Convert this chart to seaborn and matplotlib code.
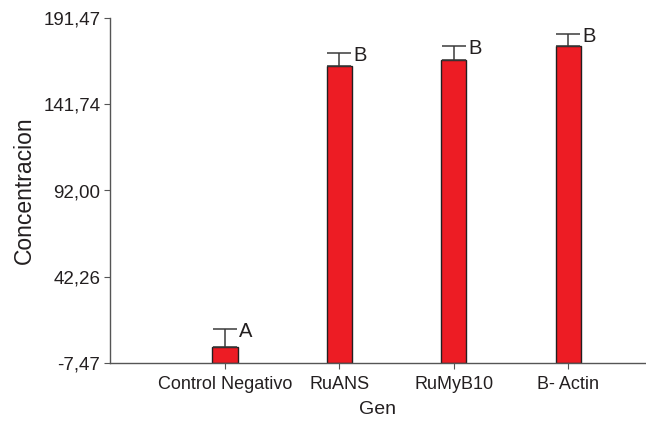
import pandas as pd
import seaborn as sns
import matplotlib.pyplot as plt

genes = ['Control Negativo', 'RuANS', 'RuMyB10', 'B- Actin']
means = [1.8, 163.8, 167.3, 175.3]
errors = [10.3, 7.5, 8.2, 7.1]
letters = ['A', 'B', 'B', 'B']
yticks = [-7.47, 42.26, 92.00, 141.74, 191.47]

ymin, ymax = yticks[0], yticks[-1]

sns.set_style("ticks")
plt.rcParams['font.family'] = ['Liberation Sans', 'DejaVu Sans']

df = pd.DataFrame({'Gen': genes, 'Concentracion': means})
# bars start at the bottom of the axis, as in the original software
df['altura'] = df['Concentracion'] - ymin

fig = plt.figure(figsize=(6.46, 4.23), dpi=100)
ax = fig.add_axes([110 / 646, 1 - 363 / 423, 1 - 110 / 646, 345 / 423])

sns.barplot(x='Gen', y='altura', data=df, order=genes, color='#ED1C24',
            bottom=ymin, width=0.22, edgecolor='#231F20', linewidth=1.0,
            saturation=1, errorbar=None, ax=ax)

xs = list(range(len(genes)))
ax.errorbar(xs, means, yerr=[[0] * len(errors), errors], fmt='none',
            ecolor='#3a3a3a', elinewidth=1.1, capsize=8.6, capthick=1.1)

for x, m, e, l in zip(xs, means, errors, letters):
    ax.text(x + 0.125, m + e - 1.5, l, fontsize=14.5, ha='left', va='center',
            color='#231F20')

ax.set_ylim(ymin, ymax)
ax.set_xlim(-1.006, 3.68)
ax.set_yticks(yticks)
ax.set_yticklabels([f'{v:.2f}'.replace('.', ',') for v in yticks], fontsize=13.5,
                   color='#231F20')
ax.tick_params(axis='x', labelsize=13, length=4, colors='#555555',
               labelcolor='#231F20', pad=5)
ax.tick_params(axis='y', length=4, colors='#555555', labelcolor='#231F20',
               pad=3)
ax.set_xlabel('Gen', fontsize=14, color='#231F20', labelpad=6)
ax.set_ylabel('Concentracion', fontsize=16.5, color='#231F20', labelpad=5)
sns.despine(ax=ax)
for s in ['left', 'bottom']:
    ax.spines[s].set_color('#555555')
    ax.spines[s].set_linewidth(1.0)

fig.savefig('out.png', dpi=100)
plt.close()
